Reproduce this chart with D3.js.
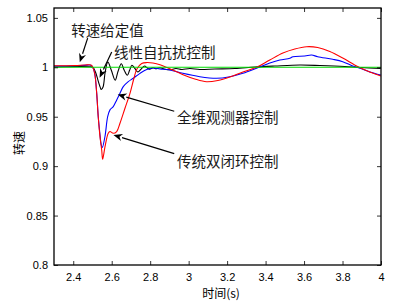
<!DOCTYPE html>
<html><head><meta charset="utf-8">
<script src="https://cdn.jsdelivr.net/npm/d3@7"></script>
<style>body{margin:0;background:#fff;} svg{display:block;}</style>
</head><body>
<script>
// ---- data ----
const xTicks = [2.4, 2.6, 2.8, 3, 3.2, 3.4, 3.6, 3.8, 4];
const yTicks = [0.8, 0.85, 0.9, 0.95, 1, 1.05];
const xTickLabels = ["2.4","2.6","2.8","3","3.2","3.4","3.6","3.8","4"];
const yTickLabels = ["0.8","0.85","0.9","0.95","1","1.05"];

const refT = [2.3, 4.0];
const refV = [1.0, 1.0];

const redT = [2.3,2.409,2.461,2.492,2.504,2.513,2.522,2.530,2.539,2.548,2.553,2.565,2.582,2.591,2.608,2.626,2.643,2.669,2.695,2.716,2.731,2.756,2.783,2.814,2.851,2.887,2.929,2.981,3.032,3.093,3.152,3.214,3.282,3.353,3.422,3.490,3.552,3.613,3.671,3.734,3.801,3.881,3.942,3.999];
const redV = [1.0015,1.0018,1.0023,1.0023,0.999,0.9922,0.9737,0.950,0.930,0.9164,0.907,0.9195,0.9333,0.935,0.9333,0.935,0.9434,0.9586,0.9737,0.9892,0.9983,1.0038,1.0048,1.0043,1.0026,0.9998,0.9963,0.9917,0.9882,0.9854,0.9867,0.9902,0.9953,1.0,1.0074,1.0144,1.0185,1.0208,1.020,1.016,1.0094,1.0006,0.9953,0.9912];

const blueT = [2.3,2.409,2.461,2.492,2.504,2.513,2.522,2.530,2.539,2.545,2.551,2.565,2.579,2.591,2.608,2.626,2.643,2.660,2.686,2.712,2.747,2.782,2.814,2.851,2.903,2.970,3.058,3.145,3.214,3.282,3.353,3.422,3.474,3.526,3.542,3.604,3.639,3.671,3.749,3.801,3.853,3.890,3.942,3.999];
const blueV = [1.0012,1.0016,1.002,1.002,0.999,0.9922,0.9737,0.950,0.932,0.922,0.9188,0.930,0.950,0.9569,0.9602,0.967,0.9737,0.9804,0.9855,0.9889,0.9939,0.9978,0.9993,0.9983,0.9973,0.9939,0.9905,0.9889,0.9905,0.9939,0.999,1.0043,1.0074,1.0091,1.0107,1.0114,1.0124,1.0107,1.0081,1.0057,1.0013,0.999,0.9953,0.9922];

const blackT = [2.3,2.49,2.503,2.516,2.530,2.540,2.546,2.555,2.566,2.580,2.598,2.618,2.633,2.650,2.665,2.681,2.693,2.705,2.720,2.736,2.754,2.771,2.784,2.797,2.815,2.830,2.850,2.877,2.903,2.934,2.965,3.006,3.058,3.136,3.240,3.344,3.448,3.578,3.682,3.812,3.890,3.999];
const blackV = [1.0003,1.0005,0.9998,0.995,0.986,0.980,0.9775,0.980,0.995,1.0054,0.997,0.9869,0.996,1.0036,0.997,0.9919,0.997,1.002,0.999,0.9953,0.9985,1.0013,0.9995,0.998,0.9995,0.9985,0.9995,0.998,0.9975,0.9988,0.9978,0.9988,0.9978,0.9983,0.9988,1.0003,1.0013,1.0023,1.0018,1.0008,0.9998,0.9988];

// annotations: text, text position (data), arrow tail (data), arrow head (data)
const annText = ["转速给定值","线性自抗扰控制","全维观测器控制","传统双闭环控制"];
const annTextT = [2.39, 2.612, 2.94, 2.94];
const annTextV = [1.0386, 1.0161, 0.9506, 0.906];
const annTailT = [2.475, 2.600, 2.925, 2.925];
const annTailV = [1.0295, 1.0155, 0.9555, 0.9127];
const annHeadT = [2.434, 2.537, 2.631, 2.609];
const annHeadV = [1.005, 0.9895, 0.9725, 0.9316];

// ---- layout ----
const W = 413, H = 306;
const m = {left: 54, right: 32, top: 8, bottom: 41};
const svg = d3.select("body").append("svg").attr("width", W).attr("height", H);
const x = d3.scaleLinear().domain([2.3, 4]).range([m.left, W - m.right]);
const y = d3.scaleLinear().domain([0.8, 1.06]).range([H - m.bottom, m.top]);

const g = svg.append("g");
const fontNum = "'Liberation Sans', Arial, sans-serif";
const fontCJK = "'Noto Sans CJK SC', sans-serif";

svg.append("defs").append("clipPath").attr("id","clip").append("rect")
  .attr("x", m.left).attr("y", m.top).attr("width", W - m.left - m.right).attr("height", H - m.top - m.bottom);

const line = d3.line().x(d => x(d[0])).y(d => y(d[1])).curve(d3.curveCatmullRom.alpha(0.5));
const series = [
  {t: blackT, v: blackV, c: "#000000"},
  {t: blueT, v: blueV, c: "#0000ff"},
  {t: redT, v: redV, c: "#ff0000"},
  {t: refT, v: refV, c: "#00dd00"}
];
const lg = g.append("g").attr("clip-path","url(#clip)");
series.forEach(s => {
  lg.append("path").datum(s.t.map((t,i) => [t, s.v[i]]))
    .attr("d", line).attr("fill","none").attr("stroke", s.c).attr("stroke-width", 1.1)
    .attr("stroke-linejoin","round");
});

// axes (ticks inward, mirrored)
const tl = 4;
const xb = d3.axisBottom(x).tickValues(xTicks).tickSize(-tl).tickPadding(8).tickFormat((d,i) => xTickLabels[i]);
const yl = d3.axisLeft(y).tickValues(yTicks).tickSize(-tl).tickPadding(6).tickFormat((d,i) => yTickLabels[i]);
const xt = d3.axisTop(x).tickValues(xTicks).tickSize(-tl).tickFormat("");
const yr = d3.axisRight(y).tickValues(yTicks).tickSize(-tl).tickFormat("");

function style(sel){
  sel.select(".domain").remove();
  sel.selectAll("line").attr("stroke","#000").attr("stroke-width",0.8);
  sel.selectAll("text").attr("font-family", fontNum).attr("font-size", 11).attr("fill","#000");
}
g.append("g").attr("transform",`translate(0,${H - m.bottom})`).call(xb).call(style);
g.append("g").attr("transform",`translate(${m.left},0)`).call(yl).call(style);
g.append("g").attr("transform",`translate(0,${m.top})`).call(xt).call(style);
g.append("g").attr("transform",`translate(${W - m.right},0)`).call(yr).call(style);

g.append("rect").attr("x", m.left).attr("y", m.top)
  .attr("width", W - m.left - m.right).attr("height", H - m.top - m.bottom)
  .attr("fill","none").attr("stroke","#000").attr("stroke-width",1.3);

// axis labels
svg.append("text").attr("x", 221).attr("y", 298).attr("text-anchor","middle")
  .attr("font-family", fontCJK).attr("font-size", 12).attr("fill","#000").text("时间(s)");
svg.append("text").attr("transform","translate(24,143) rotate(-90)").attr("text-anchor","middle")
  .attr("font-family", fontCJK).attr("font-size", 12).attr("fill","#000").text("转速");

// annotations
annText.forEach((txt, i) => {
  svg.append("text").attr("x", x(annTextT[i])).attr("y", y(annTextV[i]))
    .attr("dominant-baseline","central")
    .attr("font-family", fontCJK).attr("font-size", 14.5).attr("fill","#1a1a1a").text(txt);
  const x1 = x(annTailT[i]), y1 = y(annTailV[i]), x2 = x(annHeadT[i]), y2 = y(annHeadV[i]);
  const ang = Math.atan2(y2 - y1, x2 - x1);
  const L = 9, Wd = 3.6;
  const bx = x2 - L*Math.cos(ang), by = y2 - L*Math.sin(ang);
  svg.append("line").attr("x1", x1).attr("y1", y1).attr("x2", bx).attr("y2", by)
    .attr("stroke","#000").attr("stroke-width",1.2);
  const p1 = [bx + Wd*Math.sin(ang), by - Wd*Math.cos(ang)];
  const p2 = [bx - Wd*Math.sin(ang), by + Wd*Math.cos(ang)];
  const back = [x2 - 0.7*L*Math.cos(ang), y2 - 0.7*L*Math.sin(ang)];
  svg.append("path").attr("d", `M${x2},${y2}L${p1[0]},${p1[1]}L${back[0]},${back[1]}L${p2[0]},${p2[1]}Z`)
    .attr("fill","#000");
});
</script>
</body></html>
